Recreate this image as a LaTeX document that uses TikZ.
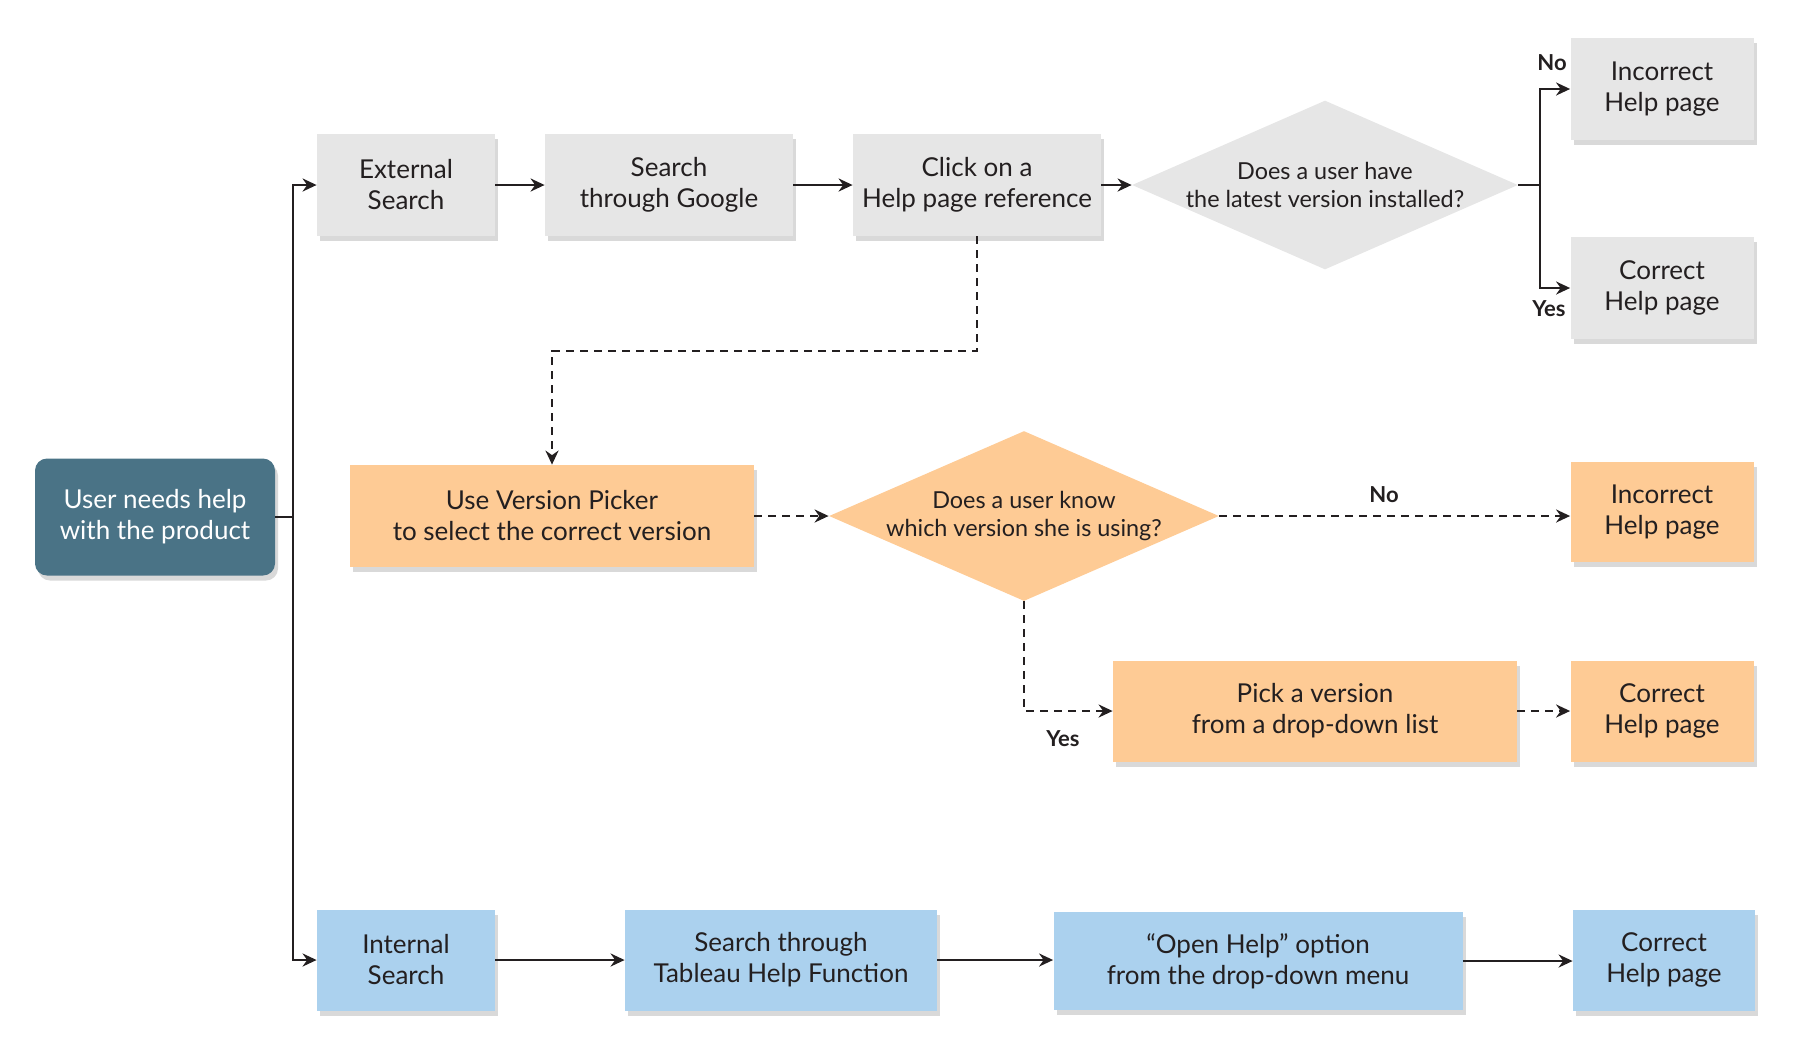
\documentclass[tikz,border=0pt]{standalone}
\usepackage{fontspec}
\setmainfont{Lato}
\usetikzlibrary{arrows.meta,shapes.geometric,shadows}
\definecolor{ink}{HTML}{231F20}
\definecolor{boxgray}{HTML}{E6E6E6}
\definecolor{boxorange}{HTML}{FECB95}
\definecolor{boxblue}{HTML}{ABD1EE}
\definecolor{boxteal}{HTML}{4A7386}

\tikzset{
	box/.style={rectangle, inner sep=0pt, align=center, text=ink,
		font=\fontsize{13}{15.5}\selectfont,
		drop shadow={shadow xshift=1.5pt, shadow yshift=-2.5pt, fill=black, opacity=0.15}},
	graybox/.style={box, fill=boxgray},
	orangebox/.style={box, fill=boxorange},
	bluebox/.style={box, fill=boxblue},
	askshape/.style={diamond, inner sep=0pt, minimum width=#1},
	asktext/.style={align=center, text=ink, font=\fontsize{11.7}{14}\selectfont},
	answer/.style={text=ink, font=\fontsize{11}{13}\selectfont\bfseries},
	line/.style={draw=ink, line width=1.2pt},
	arr/.style={line, -{Stealth[length=7pt, width=6.5pt]}},
	darr/.style={arr, dash pattern=on 4pt off 3pt}
}

\begin{document}
\begin{tikzpicture}[x=0.5pt, y=-0.5pt]
			%%%%% START %%%%%
			\useasboundingbox (0,0) rectangle (1797,1057);
			
			\node[box, fill=boxteal, text=white, rounded corners=6pt, minimum width=120pt, minimum height=58.5pt] (user) at (155,517) {User needs help\\with the product};
			
			% external search
			\node[graybox, minimum width=89pt, minimum height=51pt] (ext) at (406,185) {External\\Search};
			\node[graybox, minimum width=124pt, minimum height=51pt] (google) at (669,185) {Search\\through Google};
			\node[graybox, minimum width=124pt, minimum height=51pt] (click) at (977,185) {Click on a\\Help page reference};
			\node[askshape=193pt, minimum height=84.5pt, fill=boxgray] (ask1) at (1325,185) {};
			\node[asktext] (ask1text) at (ask1) {Does a user have\\the latest version installed?};
			\node[graybox, minimum width=91.5pt, minimum height=51pt] (inc1) at (1662,89) {Incorrect\\Help page};
			\node[graybox, minimum width=91.5pt, minimum height=51pt] (cor1) at (1662,288) {Correct\\Help page};
			
			% version picker
			\node[orangebox, minimum width=202pt, minimum height=51pt] (picker) at (552,516) {Use Version Picker\\to select the correct version};
			\node[askshape=195pt, minimum height=85pt, fill=boxorange] (ask2) at (1024,516) {};
			\node[asktext] (ask2text) at (ask2) {Does a user know\\which version she is using?};
			\node[orangebox, minimum width=91.5pt, minimum height=50pt] (inc2) at (1662,512) {Incorrect\\Help page};
			\node[orangebox, minimum width=202pt, minimum height=50.5pt] (pick) at (1315,711) {Pick a version\\from a drop-down list};
			\node[orangebox, minimum width=91.5pt, minimum height=50.5pt] (cor2) at (1662,711) {Correct\\Help page};
			
			% internal search
			\node[bluebox, minimum width=89pt, minimum height=50.5pt] (int) at (406,960) {Internal\\Search};
			\node[bluebox, minimum width=156pt, minimum height=50.5pt] (tab) at (781,960) {Search through\\Tableau Help Function};
			\node[bluebox, minimum width=204.5pt, minimum height=49pt] (open) at (1258,961) {“Open Help” option\\from the drop-down menu};
			\node[bluebox, minimum width=91pt, minimum height=50.5pt] (cor3) at (1664,960) {Correct\\Help page};
			
			\coordinate (split) at (293,517);
			\coordinate (fork) at (1540,185);
			
			\draw[line] (user.east) -- (split);
			\draw[arr] (split) |- (ext.west);
			\draw[arr] (split) |- (int.west);
			
			\draw[arr] (ext) -- (google);
			\draw[arr] (google) -- (click);
			\draw[arr] (click.east) -- (ask1.west);
			\draw[line] (ask1.east) -- (fork);
			\draw[arr] (fork) |- (inc1.west);
			\draw[arr] (fork) |- (cor1.west);
			\node[answer] (no1) at (1552,63) {No};
			\node[answer] (yes1) at (1549,309) {Yes};
			
			\draw[darr] (click.south) -- (click.south |- 0,351) -| (picker.north);
			\draw[darr] (picker) -- (ask2);
			\draw[darr] (ask2.east) -- (ask2.east -| inc2.west);
			\draw[darr] (ask2.south) |- (pick.west);
			\draw[darr] (pick) -- (cor2);
			\node[answer] (no2) at (1384,495) {No};
			\node[answer] (yes2) at (1063,739) {Yes};
			
			\draw[arr] (int) -- (tab);
			\draw[arr] (tab.east) -- (tab.east -| open.west);
			\draw[arr] (open.east) -- (open.east -| cor3.west);
			
			%%%%% END %%%%%
		\end{tikzpicture}
\end{document}
